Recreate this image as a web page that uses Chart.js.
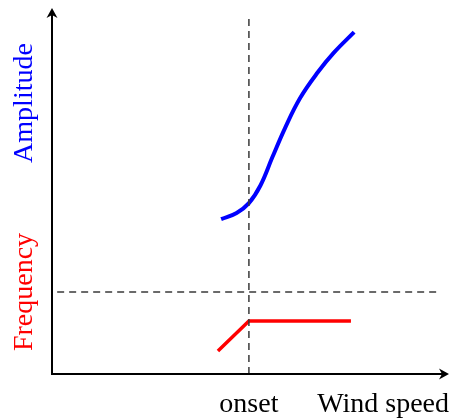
<!DOCTYPE html>
<html>
<head>
<meta charset="utf-8">
<script src="https://cdn.jsdelivr.net/npm/chart.js@4"></script>
<style>
  html, body { margin: 0; padding: 0; background: #fff; }
  #wrap { width: 451px; height: 419px; }
</style>
</head>
<body>
<div id="wrap"><canvas id="chart"></canvas></div>
<script>
// values (arbitrary units, 0..100 on both axes)
const onsetSpeed = 49.6
const thresholdLevel = 22.4

const amplitudeSpeed = [42.6, 46.5, 49.6, 52.5, 55.5, 58.7, 62.5, 67.0, 71.0, 76.1]
const amplitudeValue = [42.3, 44.0, 46.7, 51.5, 59.2, 67.2, 75.4, 82.5, 87.8, 93.4]

const frequencySpeed = [41.8, 49.6, 75.3]
const frequencyValue = [6.3, 14.5, 14.5]

const xLabel = 'Wind speed'
const onsetLabel = 'onset'
const amplitudeLabel = 'Amplitude'
const frequencyLabel = 'Frequency'

const toPoints = (xs, ys) => xs.map((x, i) => ({ x, y: ys[i] }))

const SERIF = '28px "Liberation Serif", "Times New Roman", serif'
const GUIDE = '#3a3a3a'

function arrowHead(ctx, x, y, angle) {
  ctx.save()
  ctx.translate(x, y)
  ctx.rotate(angle)
  ctx.beginPath()
  ctx.moveTo(0, 0)
  ctx.lineTo(-10, -5.5)
  ctx.lineTo(-7, 0)
  ctx.lineTo(-10, 5.5)
  ctx.closePath()
  ctx.fill()
  ctx.restore()
}

// axes with arrow heads + text labels
const sketchPlugin = {
  id: 'sketch',
  afterDatasetsDraw(chart) {
    const { ctx, chartArea: a } = chart
    ctx.save()
    ctx.strokeStyle = '#000'
    ctx.fillStyle = '#000'
    ctx.lineWidth = 2
    ctx.beginPath()
    ctx.moveTo(a.left, a.top + 6)
    ctx.lineTo(a.left, a.bottom)
    ctx.lineTo(a.right - 6, a.bottom)
    ctx.stroke()
    arrowHead(ctx, a.left, a.top, -Math.PI / 2)
    arrowHead(ctx, a.right, a.bottom, 0)
    ctx.restore()
  },
  afterDraw(chart) {
    const { ctx, chartArea: a, scales } = chart
    ctx.save()
    ctx.font = SERIF
    ctx.textBaseline = 'alphabetic'
    ctx.fillStyle = '#000'

    ctx.textAlign = 'center'
    ctx.fillText(onsetLabel, scales.x.getPixelForValue(onsetSpeed), a.bottom + 38)
    ctx.textAlign = 'right'
    ctx.fillText(xLabel, a.right, a.bottom + 38)

    ctx.textAlign = 'center'
    ctx.translate(32, 0)
    ctx.rotate(-Math.PI / 2)
    ctx.fillStyle = '#0000ff'
    ctx.fillText(amplitudeLabel, -103, 0)
    ctx.fillStyle = '#ff0000'
    ctx.fillText(frequencyLabel, -292, 0)
    ctx.restore()
  }
}

new Chart(document.getElementById('chart'), {
  type: 'line',
  data: {
    datasets: [
      {
        label: 'onset',
        data: toPoints([onsetSpeed, onsetSpeed], [0, 98]),
        borderColor: GUIDE,
        borderWidth: 1.5,
        borderDash: [7, 5],
        pointRadius: 0
      },
      {
        label: 'threshold',
        data: toPoints([1.3, 98], [thresholdLevel, thresholdLevel]),
        borderColor: GUIDE,
        borderWidth: 1.5,
        borderDash: [7, 5],
        pointRadius: 0
      },
      {
        label: amplitudeLabel,
        data: toPoints(amplitudeSpeed, amplitudeValue),
        borderColor: '#0000ff',
        borderWidth: 4,
        tension: 0.4,
        borderCapStyle: 'butt',
        pointRadius: 0
      },
      {
        label: frequencyLabel,
        data: toPoints(frequencySpeed, frequencyValue),
        borderColor: '#ff0000',
        borderWidth: 3.5,
        tension: 0,
        pointRadius: 0
      }
    ]
  },
  options: {
    responsive: true,
    maintainAspectRatio: false,
    animation: false,
    layout: { padding: { left: 52, right: 2, top: 8, bottom: 45 } },
    scales: {
      x: { type: 'linear', min: 0, max: 100, display: false },
      y: { type: 'linear', min: 0, max: 100, display: false }
    },
    plugins: {
      legend: { display: false },
      tooltip: { enabled: false }
    }
  },
  plugins: [sketchPlugin]
})
</script>
</body>
</html>
